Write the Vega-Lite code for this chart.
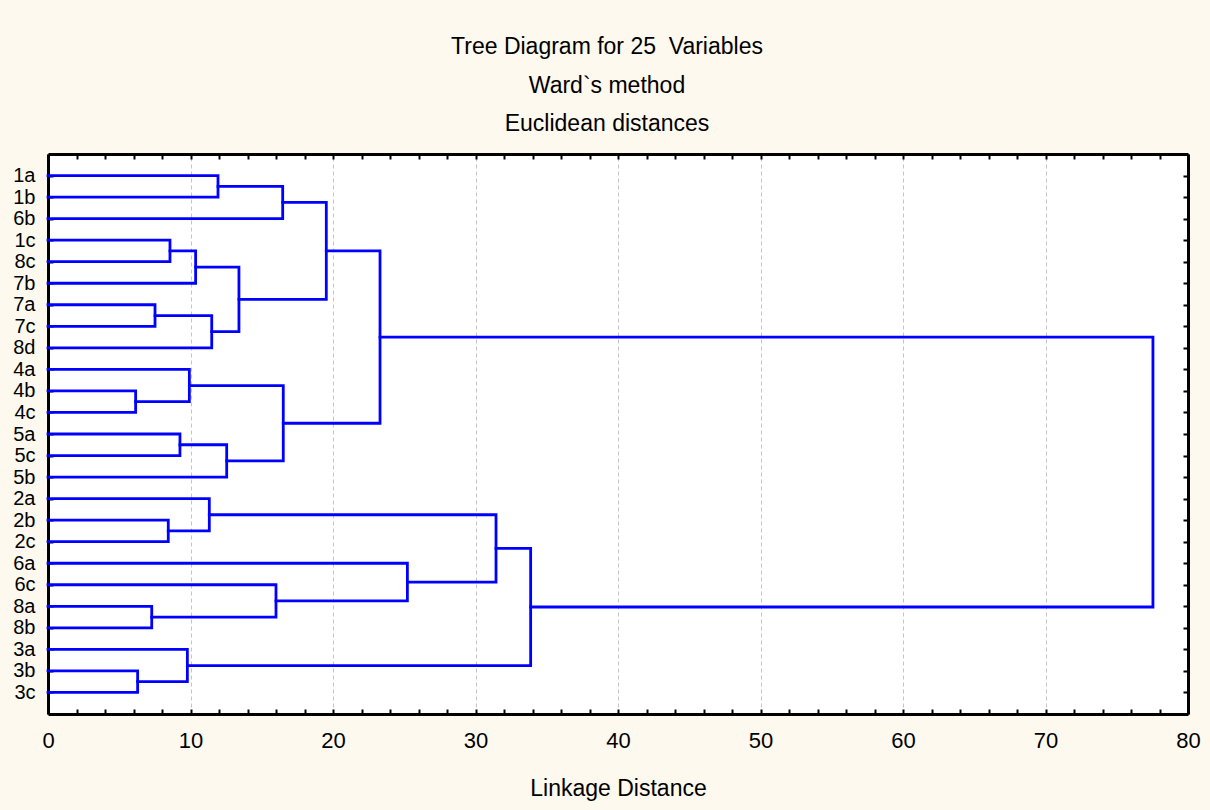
{
  "$schema": "https://vega.github.io/schema/vega-lite/v6.json",
  "autosize": "none",
  "width": 1140,
  "height": 560,
  "padding": {"left": 48, "top": 154, "right": 22, "bottom": 96},
  "background": "#fdf9ee",
  "title": {
    "text": ["Tree Diagram for 25 \u00a0Variables", "Ward`s method", "Euclidean distances"],
    "font": "Liberation Sans",
    "fontSize": 23,
    "fontWeight": "normal",
    "color": "#000000",
    "lineHeight": 38.5,
    "anchor": "middle",
    "dx": -11,
    "offset": 17
  },
  "config": {
    "view": {"stroke": null, "fill": "#ffffff"},
    "axis": {
      "labelFont": "Liberation Sans",
      "titleFont": "Liberation Sans",
      "labelColor": "#000000",
      "titleColor": "#000000",
      "domainColor": "#000000",
      "domainWidth": 3,
      "tickColor": "#000000",
      "tickWidth": 2
    }
  },
  "data": {
    "values": [
      {"node": "A", "o": 1, "x": 0, "y": 1}, {"node": "A", "o": 2, "x": 11.93, "y": 1}, {"node": "A", "o": 3, "x": 11.93, "y": 2}, {"node": "A", "o": 4, "x": 0, "y": 2},
      {"node": "B", "o": 1, "x": 11.93, "y": 1.5}, {"node": "B", "o": 2, "x": 16.47, "y": 1.5}, {"node": "B", "o": 3, "x": 16.47, "y": 3}, {"node": "B", "o": 4, "x": 0, "y": 3},
      {"node": "C", "o": 1, "x": 0, "y": 4}, {"node": "C", "o": 2, "x": 8.56, "y": 4}, {"node": "C", "o": 3, "x": 8.56, "y": 5}, {"node": "C", "o": 4, "x": 0, "y": 5},
      {"node": "D", "o": 1, "x": 8.56, "y": 4.5}, {"node": "D", "o": 2, "x": 10.36, "y": 4.5}, {"node": "D", "o": 3, "x": 10.36, "y": 6}, {"node": "D", "o": 4, "x": 0, "y": 6},
      {"node": "E", "o": 1, "x": 0, "y": 7}, {"node": "E", "o": 2, "x": 7.51, "y": 7}, {"node": "E", "o": 3, "x": 7.51, "y": 8}, {"node": "E", "o": 4, "x": 0, "y": 8},
      {"node": "F", "o": 1, "x": 7.51, "y": 7.5}, {"node": "F", "o": 2, "x": 11.49, "y": 7.5}, {"node": "F", "o": 3, "x": 11.49, "y": 9}, {"node": "F", "o": 4, "x": 0, "y": 9},
      {"node": "G", "o": 1, "x": 10.36, "y": 5.25}, {"node": "G", "o": 2, "x": 13.4, "y": 5.25}, {"node": "G", "o": 3, "x": 13.4, "y": 8.25}, {"node": "G", "o": 4, "x": 11.49, "y": 8.25},
      {"node": "H", "o": 1, "x": 16.47, "y": 2.25}, {"node": "H", "o": 2, "x": 19.53, "y": 2.25}, {"node": "H", "o": 3, "x": 19.53, "y": 6.75}, {"node": "H", "o": 4, "x": 13.4, "y": 6.75},
      {"node": "I", "o": 1, "x": 0, "y": 11}, {"node": "I", "o": 2, "x": 6.15, "y": 11}, {"node": "I", "o": 3, "x": 6.15, "y": 12}, {"node": "I", "o": 4, "x": 0, "y": 12},
      {"node": "J", "o": 1, "x": 0, "y": 10}, {"node": "J", "o": 2, "x": 9.92, "y": 10}, {"node": "J", "o": 3, "x": 9.92, "y": 11.5}, {"node": "J", "o": 4, "x": 6.15, "y": 11.5},
      {"node": "K", "o": 1, "x": 0, "y": 13}, {"node": "K", "o": 2, "x": 9.26, "y": 13}, {"node": "K", "o": 3, "x": 9.26, "y": 14}, {"node": "K", "o": 4, "x": 0, "y": 14},
      {"node": "L", "o": 1, "x": 9.26, "y": 13.5}, {"node": "L", "o": 2, "x": 12.54, "y": 13.5}, {"node": "L", "o": 3, "x": 12.54, "y": 15}, {"node": "L", "o": 4, "x": 0, "y": 15},
      {"node": "M", "o": 1, "x": 9.92, "y": 10.75}, {"node": "M", "o": 2, "x": 16.51, "y": 10.75}, {"node": "M", "o": 3, "x": 16.51, "y": 14.25}, {"node": "M", "o": 4, "x": 12.54, "y": 14.25},
      {"node": "N", "o": 1, "x": 19.53, "y": 4.5}, {"node": "N", "o": 2, "x": 23.3, "y": 4.5}, {"node": "N", "o": 3, "x": 23.3, "y": 12.5}, {"node": "N", "o": 4, "x": 16.51, "y": 12.5},
      {"node": "O", "o": 1, "x": 0, "y": 17}, {"node": "O", "o": 2, "x": 8.44, "y": 17}, {"node": "O", "o": 3, "x": 8.44, "y": 18}, {"node": "O", "o": 4, "x": 0, "y": 18},
      {"node": "P", "o": 1, "x": 0, "y": 16}, {"node": "P", "o": 2, "x": 11.32, "y": 16}, {"node": "P", "o": 3, "x": 11.32, "y": 17.5}, {"node": "P", "o": 4, "x": 8.44, "y": 17.5},
      {"node": "Q", "o": 1, "x": 0, "y": 21}, {"node": "Q", "o": 2, "x": 7.28, "y": 21}, {"node": "Q", "o": 3, "x": 7.28, "y": 22}, {"node": "Q", "o": 4, "x": 0, "y": 22},
      {"node": "R", "o": 1, "x": 0, "y": 20}, {"node": "R", "o": 2, "x": 16.0, "y": 20}, {"node": "R", "o": 3, "x": 16.0, "y": 21.5}, {"node": "R", "o": 4, "x": 7.28, "y": 21.5},
      {"node": "S", "o": 1, "x": 0, "y": 19}, {"node": "S", "o": 2, "x": 25.22, "y": 19}, {"node": "S", "o": 3, "x": 25.22, "y": 20.75}, {"node": "S", "o": 4, "x": 16.0, "y": 20.75},
      {"node": "T", "o": 1, "x": 11.32, "y": 16.75}, {"node": "T", "o": 2, "x": 31.44, "y": 16.75}, {"node": "T", "o": 3, "x": 31.44, "y": 19.875}, {"node": "T", "o": 4, "x": 25.22, "y": 19.875},
      {"node": "U", "o": 1, "x": 0, "y": 24}, {"node": "U", "o": 2, "x": 6.29, "y": 24}, {"node": "U", "o": 3, "x": 6.29, "y": 25}, {"node": "U", "o": 4, "x": 0, "y": 25},
      {"node": "V", "o": 1, "x": 0, "y": 23}, {"node": "V", "o": 2, "x": 9.78, "y": 23}, {"node": "V", "o": 3, "x": 9.78, "y": 24.5}, {"node": "V", "o": 4, "x": 6.29, "y": 24.5},
      {"node": "W", "o": 1, "x": 31.44, "y": 18.3125}, {"node": "W", "o": 2, "x": 33.87, "y": 18.3125}, {"node": "W", "o": 3, "x": 33.87, "y": 23.75}, {"node": "W", "o": 4, "x": 9.78, "y": 23.75},
      {"node": "X", "o": 1, "x": 23.3, "y": 8.5}, {"node": "X", "o": 2, "x": 77.54, "y": 8.5}, {"node": "X", "o": 3, "x": 77.54, "y": 21.03125}, {"node": "X", "o": 4, "x": 33.87, "y": 21.03125}
    ]
  },
  "layer": [
    {
      "mark": {"type": "line", "color": "#0000ff", "strokeWidth": 2.8, "strokeJoin": "miter", "strokeCap": "square"},
      "encoding": {
        "x": {
          "field": "x", "type": "quantitative",
          "scale": {"domain": [0, 80], "nice": false, "zero": false},
          "axis": {
            "orient": "bottom",
            "title": "Linkage Distance",
            "titleFontSize": 23,
            "titleFontWeight": "normal",
            "titlePadding": 26,
            "values": [0,2,4,6,8,10,12,14,16,18,20,22,24,26,28,30,32,34,36,38,40,42,44,46,48,50,52,54,56,58,60,62,64,66,68,70,72,74,76,78,80],
            "labelExpr": "datum.value % 10 === 0 ? datum.label : ''",
            "labelFontSize": 22,
            "labelFlush": false,
            "labelPadding": 21,
            "tickSize": -5,
            "grid": true,
            "gridColor": "#c4c4c4",
            "gridDash": [4, 3],
            "gridWidth": 1,
            "gridOpacity": {"condition": {"test": "datum.value % 10 === 0 && datum.value > 0 && datum.value < 80", "value": 1}, "value": 0}
          }
        },
        "y": {
          "field": "y", "type": "quantitative",
          "scale": {"domain": [0, 26], "nice": false, "zero": false, "reverse": true},
          "axis": {
            "orient": "left",
            "title": null,
            "values": [1,2,3,4,5,6,7,8,9,10,11,12,13,14,15,16,17,18,19,20,21,22,23,24,25],
            "labelExpr": "['','1a','1b','6b','1c','8c','7b','7a','7c','8d','4a','4b','4c','5a','5c','5b','2a','2b','2c','6a','6c','8a','8b','3a','3b','3c'][datum.value]",
            "labelFontSize": 20,
            "labelPadding": 18,
            "tickSize": -5,
            "grid": false
          }
        },
        "detail": {"field": "node"},
        "order": {"field": "o"}
      }
    },
    {
      "mark": {"type": "point", "opacity": 0},
      "encoding": {
        "x": {
          "field": "x", "type": "quantitative",
          "axis": {
            "orient": "top",
            "title": null,
            "labels": false,
            "grid": false,
            "values": [0,2,4,6,8,10,12,14,16,18,20,22,24,26,28,30,32,34,36,38,40,42,44,46,48,50,52,54,56,58,60,62,64,66,68,70,72,74,76,78,80],
            "tickSize": -5
          }
        },
        "y": {
          "field": "y", "type": "quantitative",
          "axis": {
            "orient": "right",
            "title": null,
            "labels": false,
            "grid": false,
            "values": [1,2,3,4,5,6,7,8,9,10,11,12,13,14,15,16,17,18,19,20,21,22,23,24,25],
            "tickSize": -5
          }
        }
      }
    }
  ],
  "resolve": {"axis": {"x": "independent", "y": "independent"}}
}
